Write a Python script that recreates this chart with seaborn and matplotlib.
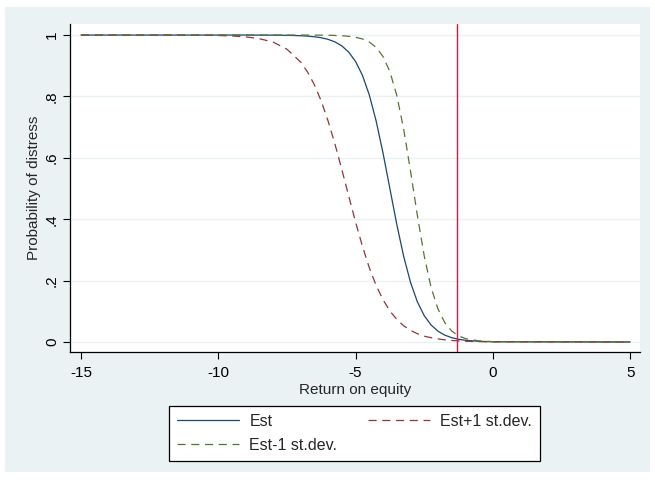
import matplotlib
matplotlib.use("Agg")
import matplotlib.pyplot as plt
from matplotlib.patches import Rectangle
from matplotlib.lines import Line2D
import seaborn as sns
import pandas as pd

# ---- data ----
roe = [-15, -11, -10, -9.5, -9, -8.5, -8, -7.5, -7, -6.75, -6.5, -6.25, -6,
       -5.75, -5.5, -5.25, -5, -4.75, -4.5, -4.25, -4, -3.75, -3.5, -3.25, -3,
       -2.75, -2.5, -2.25, -2, -1.75, -1.5, -1.25, -1, -0.5, 0, 5]
est = [1.0, 1.0, 1.0, 1.0, 1.0, 0.9999, 0.9997, 0.9992, 0.9978, 0.9966, 0.9945,
       0.9913, 0.9859, 0.9777, 0.9647, 0.9446, 0.914, 0.869, 0.805, 0.720,
       0.616, 0.5, 0.384, 0.280, 0.195, 0.131, 0.086, 0.0555, 0.0353, 0.0223,
       0.0141, 0.0088, 0.0055, 0.0022, 0.0008, 0.0]
est_plus = [1.0, 0.9996, 0.9985, 0.997, 0.994, 0.988, 0.977, 0.954, 0.912,
            0.880, 0.838, 0.785, 0.720, 0.645, 0.562, 0.476, 0.391, 0.312,
            0.242, 0.184, 0.138, 0.101, 0.074, 0.053, 0.038, 0.027, 0.019,
            0.014, 0.010, 0.007, 0.005, 0.0035, 0.0025, 0.0012, 0.0006, 0.0]
est_minus = [1.0, 1.0, 1.0, 1.0, 1.0, 1.0, 1.0, 0.9999, 0.9999, 0.9999, 0.9998,
             0.9996, 0.9993, 0.9988, 0.9978, 0.996, 0.9929, 0.9873, 0.977,
             0.960, 0.930, 0.881, 0.804, 0.695, 0.558, 0.413, 0.281, 0.178,
             0.108, 0.063, 0.036, 0.020, 0.011, 0.0036, 0.0011, 0.0]
threshold = -1.3
x_ticks = [-15, -10, -5, 0, 5]
y_ticks = [0, 0.2, 0.4, 0.6, 0.8, 1]
y_tick_labels = ["0", ".2", ".4", ".6", ".8", "1"]
labels = ["Est", "Est+1 st.dev.", "Est-1 st.dev."]

# ---- style ----
sns.set_style("white")
plt.rcParams["font.family"] = ["Liberation Sans", "DejaVu Sans"]

navy = "#1a476f"
maroon = "#90353b"
green = "#55752f"
vred = "#e0143c"
bg = "#eaf2f3"
fs = 11
lfs = 11.5
dash = (6.5, 4.5)

fig = plt.figure(figsize=(6.55, 4.8), dpi=100)
fig.patch.set_facecolor("white")
fig.patches.append(Rectangle((5 / 655, 8 / 480), 645 / 655, 465 / 480,
                             transform=fig.transFigure, facecolor=bg,
                             edgecolor="none", zorder=-10))

ax = fig.add_axes([70 / 655, 1 - 352 / 480, 570 / 655, 328 / 480])
ax.set_facecolor("white")

df = pd.DataFrame({"roe": roe, "est": est, "plus": est_plus, "minus": est_minus})

for y in y_ticks:
    ax.axhline(y, color=bg, lw=1.0, zorder=0)

lw = 0.9
sns.lineplot(data=df, x="roe", y="est", ax=ax, color=navy, lw=lw, zorder=3)
sns.lineplot(data=df, x="roe", y="plus", ax=ax, color=maroon, lw=lw,
             zorder=3).lines[-1].set_dashes(dash)
sns.lineplot(data=df, x="roe", y="minus", ax=ax, color=green, lw=lw,
             zorder=3).lines[-1].set_dashes(dash)
ax.axvline(threshold, color=vred, lw=1.0, zorder=4)

ax.set_xlim(-15.4, 5.36)
ax.set_ylim(-0.0326, 1.036)
ax.set_xticks(x_ticks)
ax.set_xticklabels([str(t) for t in x_ticks])
ax.set_yticks(y_ticks)
ax.set_yticklabels(y_tick_labels, rotation=90, va="center")
ax.tick_params(axis="both", direction="out", length=5, width=0.8,
               color="black", labelsize=fs, labelcolor="black")
ax.tick_params(axis="x", bottom=True, pad=5)
ax.tick_params(axis="y", left=True, pad=3)

for s in ["top", "right"]:
    ax.spines[s].set_visible(False)
for s in ["left", "bottom"]:
    ax.spines[s].set_color("black")
    ax.spines[s].set_linewidth(0.9)

ax.set_xlabel("Return on equity", fontsize=fs, labelpad=2)
ax.set_ylabel("Probability of distress", fontsize=fs, labelpad=3)

handles = [Line2D([], [], color=navy, lw=lw),
           Line2D([], [], color=green, lw=lw, dashes=dash),
           Line2D([], [], color=maroon, lw=lw, dashes=dash)]
leg = fig.legend(handles, [labels[0], labels[2], labels[1]], ncol=2,
                 loc="upper left", bbox_to_anchor=(169 / 655, 1 - 406 / 480),
                 frameon=True, fancybox=False, fontsize=lfs,
                 handlelength=3.9, columnspacing=1.9, handletextpad=0.63,
                 borderpad=0.5, borderaxespad=0, labelspacing=0.55)
leg.get_frame().set_edgecolor("black")
leg.get_frame().set_linewidth(0.9)
leg.get_frame().set_facecolor("white")
leg.get_frame().set_alpha(1)

fig.savefig("out.png", dpi=100)
